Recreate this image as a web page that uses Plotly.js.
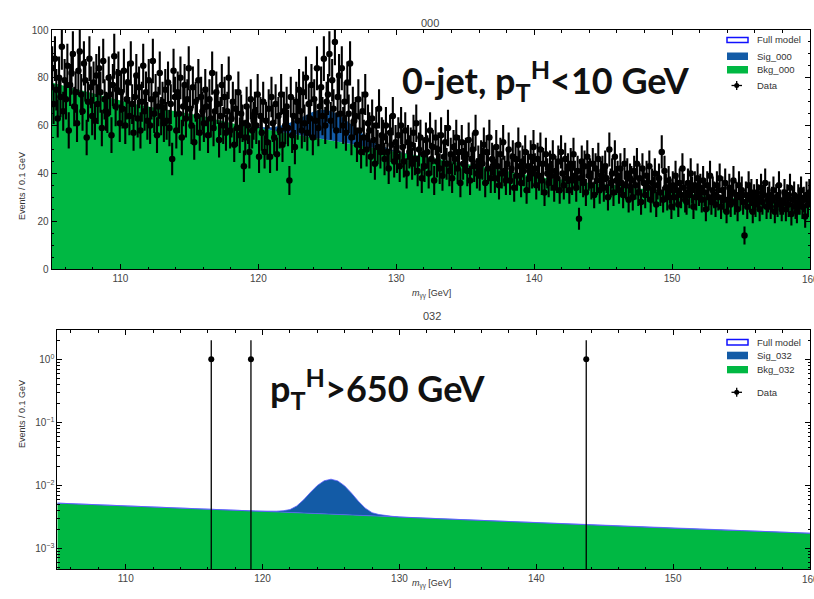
<!DOCTYPE html>
<html><head><meta charset="utf-8">
<script src="https://cdn.plot.ly/plotly-3.0.1.min.js"></script>
<style>html,body{margin:0;padding:0;background:#fff;} #chart{width:814px;height:599px;}</style>
</head><body><div id="chart"></div>
<script>
// ---------------- data ----------------
const binLow = 105, binWidth = 0.1;
// Category 000 : observed events per 0.1 GeV bin (105.0 - 160.0 GeV)
const counts000 = [
84,69,88,75,63,80,72,93,66,79,
71,85,58,77,82,90,68,74,61,83,
91,73,66,86,79,55,70,88,76,64,
78,62,81,69,84,74,59,87,71,66,
65,80,73,56,77,89,68,75,82,61,
74,67,83,60,71,78,64,86,69,57,
72,81,63,76,58,70,85,66,74,62,
79,60,71,87,65,73,56,68,82,64,
70,61,75,62,78,59,69,46,83,72,
58,74,65,80,55,68,77,63,71,84,
67,60,76,53,70,64,79,57,72,66,
61,75,68,56,71,63,82,59,66,74,
69,54,64,77,60,72,57,66,80,58,
63,70,52,67,59,74,56,65,61,43,
55,68,60,49,71,58,62,66,60,73,
47,64,57,70,49,62,53,67,47,72,
61,55,69,48,64,58,73,52,66,60,
68,59,37,72,56,64,51,70,62,75,
66,58,74,61,80,57,69,63,77,55,
71,62,84,59,68,76,64,88,60,70,
73,90,62,79,67,95,58,72,81,65,
84,60,70,57,78,65,86,55,68,62,
64,52,71,58,49,66,55,73,50,61,
58,47,63,54,44,60,51,67,49,56,
55,46,60,49,42,57,52,64,45,53,
47,56,43,60,51,45,58,40,53,49,
52,44,57,46,61,41,50,55,38,48,
43,54,49,40,58,46,51,37,55,45,
50,42,56,39,47,53,44,59,41,48,
38,51,46,55,42,49,36,53,44,47,
48,41,54,37,46,50,43,57,40,45,
39,47,44,52,36,49,42,55,38,46,
45,38,51,43,35,48,40,53,41,37,
44,50,37,42,47,34,46,39,52,43,
36,45,41,49,33,43,38,47,40,51,
42,35,46,39,50,37,44,32,48,40,
36,43,39,47,34,41,38,45,33,49,
40,35,46,38,42,33,44,37,48,39,
34,41,21,38,45,36,43,32,47,39,
40,35,44,31,42,37,46,33,39,41,
34,43,38,30,50,36,40,32,47,37,
39,33,42,36,31,44,35,40,29,38,
37,30,41,35,44,32,38,28,42,36,
31,39,34,43,29,36,33,40,27,35,
38,32,49,29,41,34,30,37,33,26,
35,30,39,33,27,36,31,42,34,29,
28,36,31,40,33,26,35,30,38,32,
34,29,37,32,25,35,30,39,28,33,
31,27,35,30,38,26,33,29,36,24,
29,34,27,32,37,28,31,25,35,30,
33,28,14,31,26,35,29,32,24,30,
27,32,30,25,34,28,31,36,26,29,
31,26,29,33,24,30,27,35,28,25,
28,32,25,30,27,34,23,29,31,26,
24,30,28,33,26,29,22,31,27,32
];
// Category 000 : background model (per 0.1 GeV) read at 1 GeV steps
const bkgMass000 = [105,106,107,108,109,110,111,112,113,114,115,116,117,118,119,120,121,122,123,124,125,126,127,128,129,130,131,132,133,134,135,136,137,138,139,140,141,142,143,144,145,146,147,148,149,150,151,152,153,154,155,156,157,158,159,160];
const bkgYield000 = [78,76.5,75,73.5,72,70.5,69,68,67,66,65,64,62.5,61,60,59,58,57,56,55,54,53,52,51,50,49,48,47,46,45,44,43,42,41,40,39,38,37.5,37,36,35.5,35,34,33.5,33,32.5,32,31,30.5,30,29.5,29,28,27.5,27,26];
// Category 000 : signal model
const sigMass000 = [118.5,119,119.5,120,120.5,121,121.5,122,122.5,123,123.5,124,124.5,125,125.5,126,126.5,127,127.5,128,128.5,129,129.5,130,130.5,131,131.5];
const sigYield000 = [0,0.08,0.19,0.39,0.76,1.36,2.29,3.59,5.26,7.18,9.15,10.88,12.08,12.5,12.08,10.88,9.15,7.18,5.26,3.59,2.29,1.36,0.76,0.39,0.19,0.08,0];

// Category 032
const bkgMass032 = [105,110,115,120,125,130,135,140,145,150,155,160];
const bkgYield032 = [5.2e-3,4.75e-3,4.25e-3,3.85e-3,3.48e-3,3.12e-3,2.82e-3,2.55e-3,2.3e-3,2.07e-3,1.9e-3,1.73e-3];
const sigMass032 = [119.5,120,120.5,121,121.5,122,122.5,123,123.5,124,124.5,125,125.5,126,126.5,127,127.5,128,128.5,129,129.5,130,130.5];
const sigYield032 = [0,2e-5,5e-5,1e-4,2e-4,4e-4,1.03e-3,2.24e-3,4.12e-3,6.36e-3,8.25e-3,9.0e-3,8.25e-3,6.36e-3,4.12e-3,2.24e-3,1.03e-3,4e-4,2e-4,1e-4,5e-5,2e-5,0];
const dataMass032 = [116.25,119.15,143.65];
const dataCounts032 = [1,1,1];

const xTicks = [110,120,130,140,150];
const xEdgeTick = 160;
const yTicks000 = [0,20,40,60,80,100];
const yTickVals032 = [1,0.1,0.01,0.001];
const yTickText032 = ['10<sup>0</sup>','10<sup>\u22121</sup>','10<sup>\u22122</sup>','10<sup>\u22123</sup>'];

// ---------------- style ----------------
const GREEN = '#00b843', BLUE = '#135ba6', LINEBLUE = 'rgba(90,90,255,0.75)';
const W = 814, H = 599;
const px = x => x / W, py = y => 1 - y / H;
const dataMass000 = counts000.map((_, i) => +(binLow + binWidth * (i + 0.5)).toFixed(2));

const traces = [
  {x: bkgMass000, y: bkgYield000, type:'scatter', mode:'lines', stackgroup:'m000', stackgaps:'interpolate',
   fillcolor: GREEN, line:{color: GREEN, width:0}, xaxis:'x', yaxis:'y', hoverinfo:'skip'},
  {x: sigMass000, y: sigYield000, type:'scatter', mode:'lines', stackgroup:'m000',
   fillcolor: BLUE, line:{color: BLUE, width:0}, xaxis:'x', yaxis:'y', hoverinfo:'skip'},
  {x: dataMass000, y: counts000, type:'scatter', mode:'markers', xaxis:'x', yaxis:'y',
   marker:{color:'#000', size:6.5}, error_y:{type:'sqrt', color:'#000', thickness:2.1, width:0}},

  {x: bkgMass032, y: bkgYield032, type:'scatter', mode:'lines', stackgroup:'m032', stackgaps:'interpolate',
   fillcolor: GREEN, line:{color: LINEBLUE, width:1}, xaxis:'x2', yaxis:'y2', hoverinfo:'skip'},
  {x: sigMass032, y: sigYield032, type:'scatter', mode:'lines', stackgroup:'m032',
   fillcolor: BLUE, line:{color: LINEBLUE, width:1}, xaxis:'x2', yaxis:'y2', hoverinfo:'skip'},
  {x: dataMass032, y: dataCounts032, type:'scatter', mode:'markers', xaxis:'x2', yaxis:'y2',
   marker:{color:'#000', size:6}, error_y:{type:'sqrt', color:'#000', thickness:1.3, width:0}}
];

const tickFont = {family:'Liberation Sans, Arial, sans-serif', size:10, color:'#444'};
const axisCommon = {showline:true, linecolor:'#000', linewidth:1, mirror:'allticks', ticks:'inside',
  ticklen:5, tickwidth:1, tickcolor:'#000', showgrid:false, zeroline:false, tickfont:tickFont, automargin:false};

const lab = {family:'Liberation Sans, Arial, sans-serif', size:9, color:'#333'};
const big = {family:'Lato, sans-serif', size:36, color:'#111', weight:700};
const annotations = [
  {text:'000', x:px(430), y:py(15), xref:'paper', yref:'paper', showarrow:false, font:{...lab, size:11, color:'#444'}},
  {text:'032', x:px(432), y:py(316), xref:'paper', yref:'paper', showarrow:false, font:{...lab, size:11, color:'#444'}},
  {text:'Events / 0.1 GeV', x:px(15), y:py(150), xref:'paper', yref:'paper', showarrow:false, textangle:-90, font:lab},
  {text:'Events / 0.1 GeV', x:px(15), y:py(450), xref:'paper', yref:'paper', showarrow:false, textangle:-90, font:lab},
  {text:'<i>m</i><sub>\u03b3\u03b3</sub> [GeV]', x:px(431), y:py(294), xref:'paper', yref:'paper', showarrow:false, font:lab},
  {text:'<i>m</i><sub>\u03b3\u03b3</sub> [GeV]', x:px(431), y:py(592), xref:'paper', yref:'paper', showarrow:false, font:lab},
  {text:String(xEdgeTick), x:xEdgeTick, y:0, xref:'x', yref:'y', yanchor:'top', yshift:-3, showarrow:false, font:tickFont},
  {text:String(xEdgeTick), x:xEdgeTick, y:py(569), xref:'x2', yref:'paper', yanchor:'top', yshift:-3, showarrow:false, font:tickFont},
  {text:'0-jet, p<sub>T</sub><sup>H</sup>&lt;10 GeV', x:px(400), y:py(80), xref:'paper', yref:'paper', xanchor:'left', yanchor:'middle', showarrow:false, font:big},
  {text:'p<sub>T</sub><sup>H</sup>&gt;650 GeV', x:px(268), y:py(388), xref:'paper', yref:'paper', xanchor:'left', yanchor:'middle', showarrow:false, font:big}
];
const shapes = [];
function legend(rows, names) {
  const [yFull, ySig, yBkg, yData] = rows;
  shapes.push({type:'rect', xref:'paper', yref:'paper', x0:px(727), x1:px(748), y0:py(yFull[0]), y1:py(yFull[1]), fillcolor:'#fff', line:{color:'#1010ff', width:1.5}});
  shapes.push({type:'rect', xref:'paper', yref:'paper', x0:px(727), x1:px(748), y0:py(ySig[0]), y1:py(ySig[1]), fillcolor:BLUE, line:{width:0}});
  shapes.push({type:'rect', xref:'paper', yref:'paper', x0:px(727), x1:px(748), y0:py(yBkg[0]), y1:py(yBkg[1]), fillcolor:GREEN, line:{width:0}});
  shapes.push({type:'line', xref:'paper', yref:'paper', x0:px(731.5), x1:px(742), y0:py(yData), y1:py(yData), line:{color:'#000', width:1.3}});
  shapes.push({type:'line', xref:'paper', yref:'paper', x0:px(736.7), x1:px(736.7), y0:py(yData-4.5), y1:py(yData+4.5), line:{color:'#000', width:1.3}});
  shapes.push({type:'circle', xref:'paper', yref:'paper', x0:px(734.2), x1:px(739.2), y0:py(yData-2.5), y1:py(yData+2.5), fillcolor:'#000', line:{width:0}});
  const ty = [(yFull[0]+yFull[1])/2, (ySig[0]+ySig[1])/2, (yBkg[0]+yBkg[1])/2, yData];
  names.forEach((n, i) => annotations.push({text:n, x:px(755), y:py(ty[i]), xref:'paper', yref:'paper', xanchor:'left', yanchor:'middle', showarrow:false, font:{...lab, size:9.5}}));
}
legend([[37.5,42.5],[52.5,60],[66,73.5],85.5], ['Full model','Sig_000','Bkg_000','Data']);
legend([[339.5,345],[351.7,359.3],[366,373.3],392.3], ['Full model','Sig_032','Bkg_032','Data']);

const layout = {
  width:W, height:H, margin:{l:0,r:0,t:0,b:0}, paper_bgcolor:'#fff', plot_bgcolor:'#fff', showlegend:false,
  xaxis:{...axisCommon, domain:[px(51.5), px(810)], anchor:'y', range:[105,160], tickmode:'array', tickvals:xTicks,
    minor:{ticks:'inside', ticklen:2.5, dtick:2, tick0:110, tickcolor:'#000'}},
  yaxis:{...axisCommon, domain:[py(269), py(30)], anchor:'x', range:[0,100], tickmode:'array', tickvals:yTicks000,
    minor:{ticks:'inside', ticklen:2.5, dtick:5, tick0:0, tickcolor:'#000'}},
  xaxis2:{...axisCommon, domain:[px(57.3), px(810)], anchor:'y2', range:[105,160], tickmode:'array', tickvals:xTicks,
    minor:{ticks:'inside', ticklen:2.5, dtick:2, tick0:110, tickcolor:'#000'}},
  yaxis2:{...axisCommon, type:'log', domain:[py(569), py(330)], anchor:'x2', range:[-3.33,0.465], tickmode:'array',
    tickvals:yTickVals032, ticktext:yTickText032, minor:{ticks:'inside', ticklen:2.5, dtick:'D1', tickcolor:'#000'}},
  annotations, shapes
};
Plotly.newPlot('chart', traces, layout, {staticPlot:true, displayModeBar:false});
</script></body></html>
